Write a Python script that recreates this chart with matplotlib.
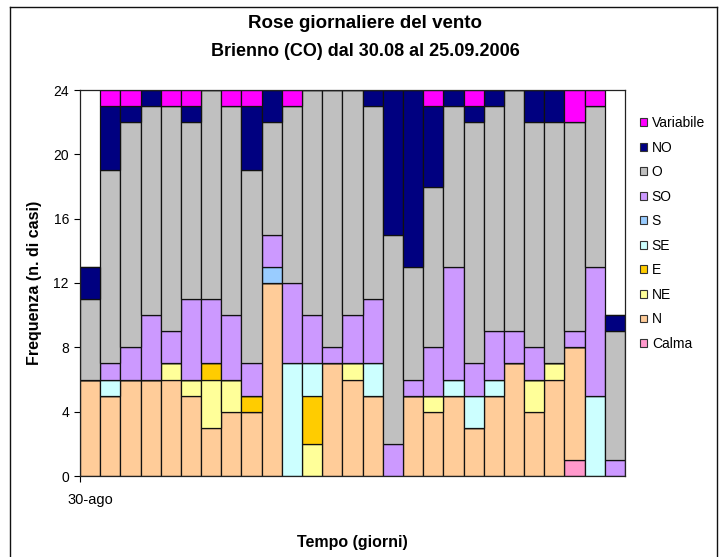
import matplotlib
matplotlib.use("Agg")
from matplotlib import pyplot as plt
from matplotlib.lines import Line2D
from matplotlib.patches import Patch
import numpy as np

plt.rcParams['font.family'] = ['Liberation Sans', 'DejaVu Sans']

# giorni dal 30-ago al 25-set
days = list(range(27))
first_label = "30-ago"

calma = [0, 0, 0, 0, 0, 0, 0, 0, 0, 0, 0, 0, 0, 0, 0, 0, 0, 0, 0, 0, 0, 0, 0, 0, 1, 0, 0]
n = [6, 5, 6, 6, 6, 5, 3, 4, 4, 12, 0, 0, 7, 6, 5, 0, 5, 4, 5, 3, 5, 7, 4, 6, 7, 0, 0]
ne = [0, 0, 0, 0, 1, 1, 3, 2, 0, 0, 0, 2, 0, 1, 0, 0, 0, 1, 0, 0, 0, 0, 2, 1, 0, 0, 0]
e = [0, 0, 0, 0, 0, 0, 1, 0, 1, 0, 0, 3, 0, 0, 0, 0, 0, 0, 0, 0, 0, 0, 0, 0, 0, 0, 0]
se = [0, 1, 0, 0, 0, 0, 0, 0, 0, 0, 7, 2, 0, 0, 2, 0, 0, 0, 1, 2, 1, 0, 0, 0, 0, 5, 0]
s = [0, 0, 0, 0, 0, 0, 0, 0, 0, 1, 0, 0, 0, 0, 0, 0, 0, 0, 0, 0, 0, 0, 0, 0, 0, 0, 0]
so = [0, 1, 2, 4, 2, 5, 4, 4, 2, 2, 5, 3, 1, 3, 4, 2, 1, 3, 7, 2, 3, 2, 2, 0, 1, 8, 1]
o = [5, 12, 14, 13, 14, 11, 13, 13, 12, 7, 11, 14, 16, 14, 12, 13, 7, 10, 10, 15, 14, 15, 14, 15, 13, 10, 8]
no = [2, 4, 1, 1, 0, 1, 0, 0, 4, 2, 0, 0, 0, 0, 1, 9, 11, 5, 1, 1, 1, 0, 2, 2, 0, 0, 1]
variabile = [0, 1, 1, 0, 1, 1, 0, 1, 1, 0, 1, 0, 0, 0, 0, 0, 0, 1, 0, 1, 0, 0, 0, 0, 2, 1, 0]

series = [
    ("Calma", calma, "#FF99CC"),
    ("N", n, "#FFCC99"),
    ("NE", ne, "#FFFF99"),
    ("E", e, "#FFCC00"),
    ("SE", se, "#CCFFFF"),
    ("S", s, "#99CCFF"),
    ("SO", so, "#CC99FF"),
    ("O", o, "#C0C0C0"),
    ("NO", no, "#000080"),
    ("Variabile", variabile, "#FF00FF"),
]

fig = plt.figure(figsize=(7.2, 5.57), dpi=100)
ax = fig.add_axes([80 / 720, 1 - 476 / 557, 545 / 720, 386 / 557])

bottom = np.zeros(len(days))
for label, vals, col in series:
    vals = np.array(vals)
    ax.bar(days, vals, width=1.0, bottom=bottom, color=col,
           edgecolor="#111111", linewidth=0.9, label=label)
    bottom += vals

ax.set_xlim(-0.5, len(days) - 0.5)
ax.set_ylim(0, 24)
ax.set_yticks(range(0, 25, 4))
ax.tick_params(axis='y', direction='out', length=4, width=0.8, labelsize=10, pad=4)
ax.set_xticks([0])
ax.set_xticklabels([first_label], fontsize=10.5)
ax.tick_params(axis='x', length=0, pad=12)
ax.set_xticks([-0.5], minor=True)
ax.tick_params(axis='x', which='minor', direction='out', length=4, width=0.8)

for sp in ax.spines.values():
    sp.set_color("#222222")
    sp.set_linewidth(0.9)

ax.set_ylabel("Frequenza (n. di casi)", fontsize=11.5, fontweight='bold', labelpad=8)
fig.text(352 / 720, 1 - 543 / 557, "Tempo (giorni)", ha='center', va='center',
         fontsize=11.5, fontweight='bold')

fig.text(365 / 720, 1 - 24 / 557, "Rose giornaliere del vento", ha='center', va='center',
         fontsize=13.5, fontweight='bold')
fig.text(365 / 720, 1 - 51 / 557, "Brienno (CO) dal 30.08 al 25.09.2006", ha='center',
         va='center', fontsize=13, fontweight='bold')

handles = [Patch(facecolor=col, edgecolor="#333333", linewidth=0.8, label=label)
           for label, vals, col in series[::-1]]
fig.legend(handles=handles, loc='upper left', bbox_to_anchor=(640 / 720, 1 - 116 / 557),
           frameon=False, fontsize=10, handlelength=0.5, handleheight=0.5,
           handletextpad=0.35, labelspacing=0.76, borderpad=0, borderaxespad=0)

# cornice esterna del grafico
for xs, ys in [([10 / 720, 10 / 720], [0, 1 - 7 / 557]),
               ([10 / 720, 717 / 720], [1 - 7 / 557, 1 - 7 / 557]),
               ([717 / 720, 717 / 720], [0, 1 - 7 / 557])]:
    fig.add_artist(Line2D(xs, ys, color="#111111", linewidth=1.0))

fig.savefig("out.png", dpi=100)
